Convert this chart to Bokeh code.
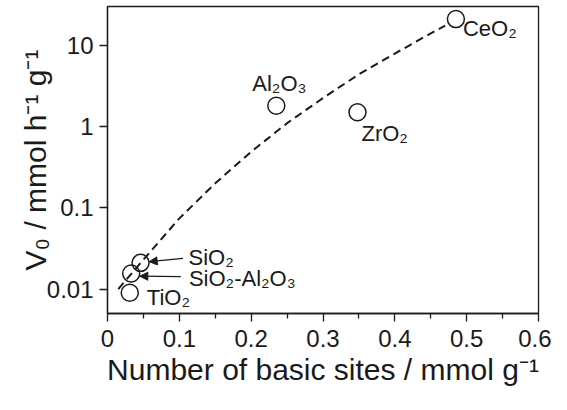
from bokeh.plotting import figure
from bokeh.models import (Range1d, FixedTicker, CustomJSTickFormatter, Arrow,
                          NormalHead, ColumnDataSource)
from bokeh.core.properties import value
from bokeh.embed import file_html
from bokeh.resources import INLINE

# ---- data ----
catalysts = ["CeO₂", "Al₂O₃", "ZrO₂", "SiO₂", "SiO₂-Al₂O₃", "TiO₂"]
basic_sites = [0.485, 0.235, 0.348, 0.046, 0.033, 0.031]
rate_v0 = [21.0, 1.8, 1.5, 0.021, 0.0155, 0.009]

# dashed trend curve
trend_x = [0.015, 0.05, 0.10, 0.15, 0.20, 0.25, 0.30, 0.35, 0.40, 0.45, 0.47]
trend_y = [0.0100, 0.023, 0.074, 0.20, 0.49, 1.10, 2.24, 4.4, 7.9, 14.0, 17.4]

x_ticks = [0, 0.1, 0.2, 0.3, 0.4, 0.5, 0.6]
x_minor = [0.05, 0.15, 0.25, 0.35, 0.45, 0.55]
y_ticks = [0.01, 0.1, 1, 10]

FONT = "Liberation Sans"
INK = "#1a1a1a"

p = figure(width=551, height=394, output_backend="svg", toolbar_location=None,
           x_range=Range1d(0, 0.6), y_range=Range1d(0.005, 30),
           y_axis_type="log",
           min_border_left=107, min_border_right=13, min_border_top=6,
           min_border_bottom=81)
p.background_fill_color = "white"
p.border_fill_color = "white"
p.outline_line_color = INK
p.outline_line_width = 1.3
p.xgrid.visible = False
p.ygrid.visible = False

fmt = CustomJSTickFormatter(code="return tick.toString();")

p.xaxis.ticker = FixedTicker(ticks=x_ticks, minor_ticks=x_minor)
p.yaxis.ticker = FixedTicker(ticks=y_ticks, minor_ticks=[])
p.xaxis.formatter = fmt
p.yaxis.formatter = fmt

for ax in (p.xaxis, p.yaxis):
    ax.axis_line_color = INK
    ax.axis_line_width = 1.3
    ax.major_tick_line_color = INK
    ax.major_tick_line_width = 1.3
    ax.major_tick_out = 8
    ax.major_tick_in = 0
    ax.minor_tick_line_color = INK
    ax.minor_tick_line_width = 1.3
    ax.minor_tick_out = 5
    ax.minor_tick_in = 0
    ax.major_label_text_font = FONT
    ax.major_label_text_font_size = "24px"
    ax.major_label_text_color = INK
    ax.axis_label_text_font = FONT
    ax.axis_label_text_font_size = "30px"
    ax.axis_label_text_font_style = "normal"
    ax.axis_label_text_color = INK

p.xaxis.axis_label = "Number of basic sites / mmol g⁻¹"
p.yaxis.axis_label = "V₀ / mmol h⁻¹ g⁻¹"
p.xaxis.major_label_standoff = 8
p.yaxis.major_label_standoff = 6
p.xaxis.axis_label_standoff = 3
p.yaxis.axis_label_standoff = -8

# trend line
p.line(trend_x, trend_y, line_color=INK, line_width=2, line_dash="8 5")

# data points
p.scatter(basic_sites, rate_v0, marker="circle", size=17, fill_color=None,
          line_color=INK, line_width=1.5)

# labels (SiO2-Al2O3 label placed by its arrow tail)
lab = ColumnDataSource(dict(
    x=[basic_sites[0], basic_sites[1], basic_sites[2], basic_sites[3], 0.105, basic_sites[5]],
    y=[rate_v0[0], rate_v0[1], rate_v0[2], rate_v0[3], 0.0142, rate_v0[5]],
    text=catalysts,
    dx=[7, -24, 4, 48, 6, 17],
    dy=[9, -22, 21, -5, 2, 5]))
p.text("x", "y", text="text", source=lab, x_offset="dx", y_offset="dy",
       text_font=value(FONT), text_font_size="22px", text_color=INK,
       text_baseline="middle", text_align="left")

# arrows
p.add_layout(Arrow(x_start=0.105, y_start=0.0238, x_end=0.058, y_end=0.0217,
                   line_color=INK, line_width=1.2,
                   end=NormalHead(size=8, fill_color=INK, line_color=INK)))
p.add_layout(Arrow(x_start=0.102, y_start=0.0142, x_end=0.045, y_end=0.0144,
                   line_color=INK, line_width=1.2,
                   end=NormalHead(size=8, fill_color=INK, line_color=INK)))

open("out.html", "w").write(file_html(p, INLINE))
